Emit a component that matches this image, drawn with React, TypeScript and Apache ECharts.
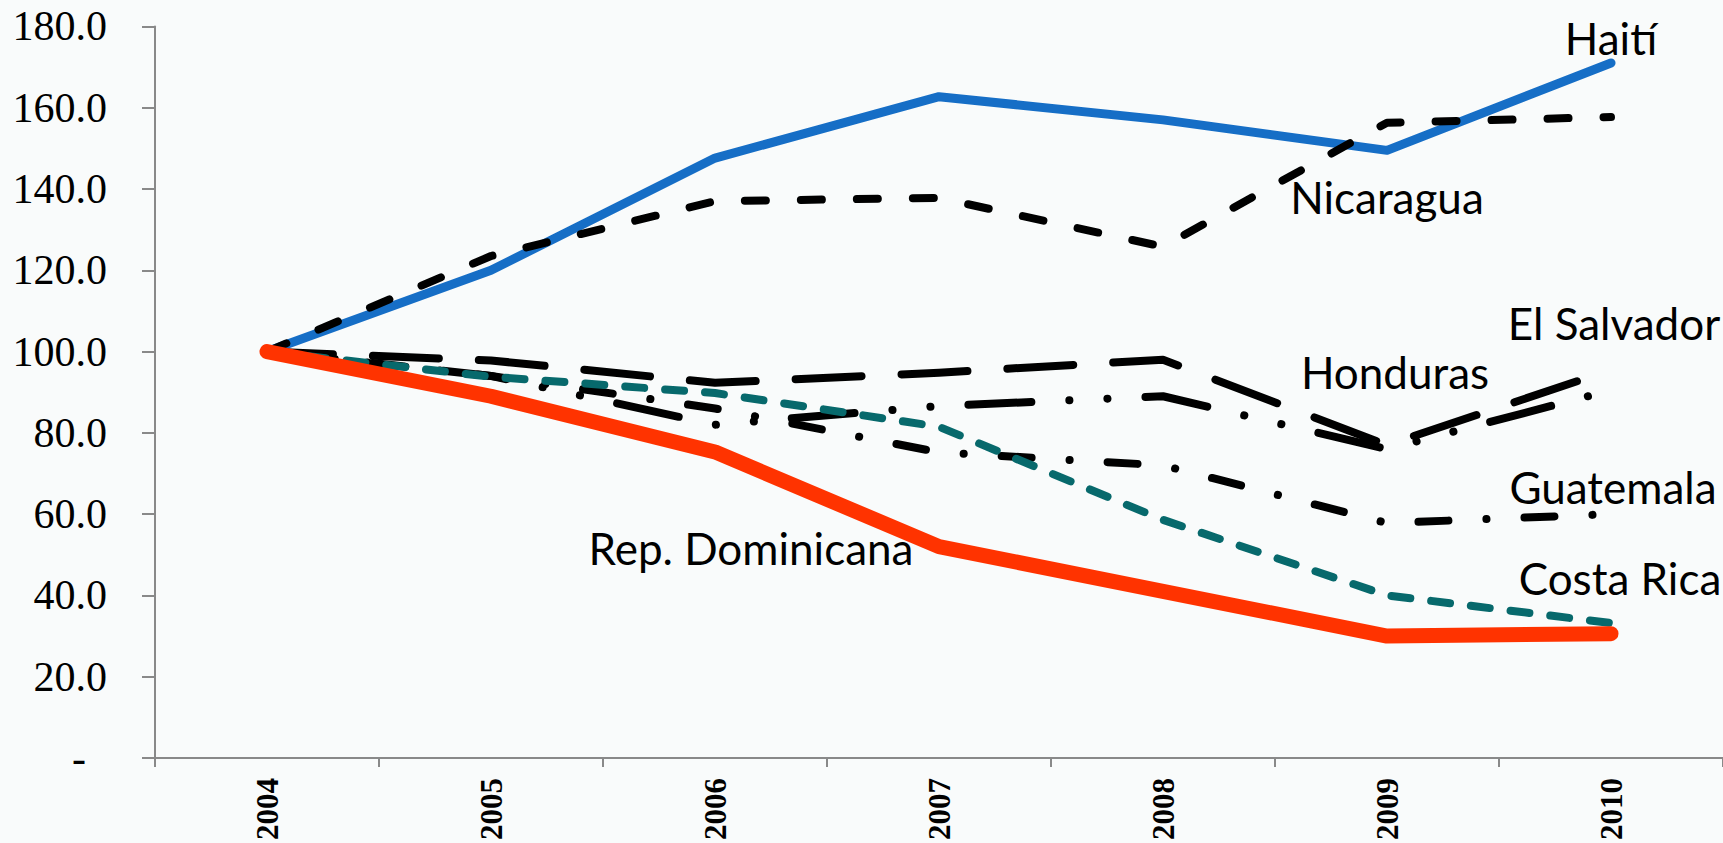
import React, { useEffect, useRef } from "react";
import * as echarts from "echarts";

const years = ["2004", "2005", "2006", "2007", "2008", "2009", "2010"];
const haiti = [100, 120, 147.6, 162.7, 157, 149.5, 171];
const nicaragua = [100, 123.5, 137, 137.8, 125.8, 156.3, 157.7];
const elSalvador = [100, 97.8, 92.3, 94.8, 98, 77, 95.5];
const honduras = [100, 94, 82, 86.6, 89, 76, 90.5];
const guatemala = [100, 94, 86, 75.2, 72, 57.8, 60];
const costaRica = [100, 93.8, 89.8, 81.5, 58.6, 40, 33.2];
const repDominicana = [100, 89, 75.3, 52, 41, 30, 30.6];

const yTicks = { min: 0, max: 180, interval: 20 };

const labelFont = "Lato";
const labels = [
  { text: "Haití", cx: 1611, base: 53 },
  { text: "Nicaragua", cx: 1387, base: 212 },
  { text: "El Salvador", cx: 1614, base: 338 },
  { text: "Honduras", cx: 1395, base: 387 },
  { text: "Guatemala", cx: 1613, base: 502 },
  { text: "Costa Rica", cx: 1620, base: 593 },
  { text: "Rep. Dominicana", cx: 751, base: 563 },
];

export default function App() {
  const ref = useRef<HTMLDivElement>(null);
  useEffect(() => {
    document.body.style.margin = "0";
    const chart = echarts.init(ref.current!, null, { renderer: "svg" });
    const fs = 44;
    const mk = (name: string, data: number[], color: string, width: number, type: any) => ({
      name,
      type: "line",
      data,
      symbol: "none",
      lineStyle: { color, width, type, cap: "round", join: "round" },
      z: 2,
    });
    chart.setOption({
      animation: false,
      backgroundColor: "#F9FBFB",
      grid: { left: 155, right: 0, top: 26.4, bottom: 85, containLabel: false },
      xAxis: {
        type: "category",
        data: years,
        boundaryGap: true,
        axisLine: { lineStyle: { color: "#898989", width: 2 } },
        axisTick: { show: true, length: 9, lineStyle: { color: "#898989", width: 2 } },
        axisLabel: {
          rotate: 90,
          fontFamily: "Liberation Serif",
          fontWeight: "bold",
          fontSize: 31,
          color: "#000",
          margin: 20,
        },
      },
      yAxis: {
        type: "value",
        min: yTicks.min,
        max: yTicks.max,
        interval: yTicks.interval,
        axisLine: { show: true, lineStyle: { color: "#898989", width: 2 } },
        axisTick: { show: true, length: 13, lineStyle: { color: "#898989", width: 2 } },
        splitLine: { show: false },
        axisLabel: {
          fontFamily: "Liberation Serif",
          fontSize: 42,
          color: "#000",
          margin: 48,
          formatter: (v: number) => (v === 0 ? "{z|-}" : v.toFixed(1)),
          rich: {
            z: { fontFamily: "Liberation Serif", fontSize: 42, color: "#000", padding: [0, 21, 0, 0] },
          },
        },
      },
      series: [
        mk("Haití", haiti, "#166EC6", 9, "solid"),
        mk("Nicaragua", nicaragua, "#000", 8, [21, 35]),
        mk("El Salvador", elSalvador, "#000", 8, [66, 40]),
        mk("Honduras", honduras, "#000", 8, [63, 38, 0.1, 38, 0.1, 38]),
        mk("Guatemala", guatemala, "#000", 8, [30, 38, 0.1, 38]),
        mk("Costa Rica", costaRica, "#07696C", 8, [19, 21]),
        mk("Rep. Dominicana", repDominicana, "#FF3300", 15, "solid"),
      ],
      graphic: labels.map((l) => ({
        type: "text",
        x: l.cx,
        y: l.base - fs * 0.33,
        z: 10,
        style: {
          text: l.text,
          font: `${fs}px ${labelFont}`,
          fill: "#000",
          align: "center",
          verticalAlign: "middle",
        },
      })),
    });
    return () => chart.dispose();
  }, []);
  return <div ref={ref} style={{ position: "absolute", left: 0, top: 0, width: 1723, height: 843 }} />;
}
